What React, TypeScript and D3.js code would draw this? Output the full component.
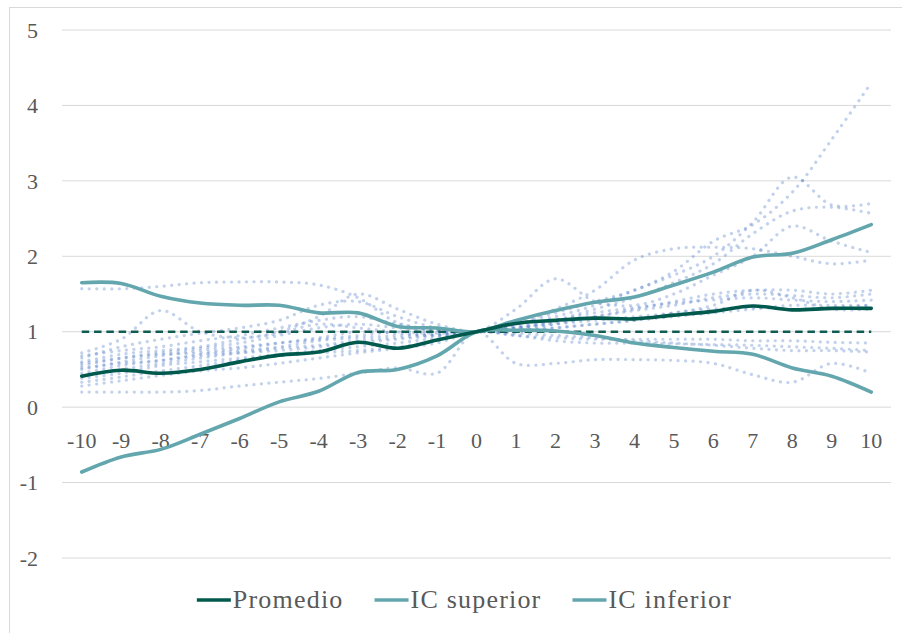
import React, { useEffect, useRef } from 'react';
import * as d3 from 'd3';

// categorías del eje X
const categorias = [-10, -9, -8, -7, -6, -5, -4, -3, -2, -1, 0, 1, 2, 3, 4, 5, 6, 7, 8, 9, 10];
const ticksY = [-2, -1, 0, 1, 2, 3, 4, 5];

const promedio = [0.41, 0.49, 0.45, 0.5, 0.6, 0.69, 0.73, 0.86, 0.78, 0.89, 1, 1.11, 1.15, 1.18, 1.17, 1.22, 1.27, 1.34, 1.29, 1.31, 1.31];
const icSuperior = [1.65, 1.64, 1.47, 1.38, 1.35, 1.35, 1.25, 1.25, 1.07, 1.05, 1, 1.15, 1.28, 1.39, 1.46, 1.62, 1.79, 1.99, 2.04, 2.22, 2.42];
const icInferior = [-0.86, -0.66, -0.56, -0.36, -0.15, 0.07, 0.21, 0.46, 0.5, 0.68, 1, 1.02, 1.01, 0.95, 0.85, 0.79, 0.74, 0.7, 0.52, 0.41, 0.2];
const referencia = [1, 1, 1, 1, 1, 1, 1, 1, 1, 1, 1, 1, 1, 1, 1, 1, 1, 1, 1, 1, 1];

// series individuales (punteadas)
const serie01 = [1.57, 1.57, 1.6, 1.65, 1.66, 1.66, 1.62, 1.45, 1.12, 1.02, 1, 1.05, 1.15, 1.25, 1.32, 1.38, 1.42, 1.45, 1.42, 1.4, 1.42];
const serie02 = [0.72, 0.9, 1.28, 1.0, 0.92, 0.98, 1.1, 1.05, 1.0, 0.98, 1, 1.1, 1.3, 1.55, 1.95, 2.1, 2.12, 2.1, 2.0, 1.9, 1.95];
const serie03 = [0.65, 0.8, 0.9, 0.98, 1.05, 1.15, 1.35, 1.4, 1.2, 1.05, 1, 1.3, 1.7, 1.4, 1.35, 1.5, 1.75, 2.0, 2.4, 2.2, 2.05];
const serie04 = [0.6, 0.7, 0.75, 0.8, 0.9, 1.0, 1.2, 1.5, 1.3, 1.1, 1, 1.1, 1.25, 1.4, 1.55, 1.8, 2.2, 2.42, 2.85, 3.55, 4.3];
const serie05 = [0.55, 0.65, 0.72, 0.78, 0.85, 0.95, 1.05, 1.1, 1.05, 1.02, 1, 1.08, 1.2, 1.35, 1.55, 1.75, 2.0, 2.45, 3.05, 2.68, 2.7];
const serie06 = [0.5, 0.6, 0.68, 0.75, 0.8, 0.85, 0.9, 0.95, 1.0, 1.0, 1, 1.05, 1.15, 1.3, 1.45, 1.65, 1.9, 2.3, 2.6, 2.65, 2.57];
const serie07 = [0.45, 0.55, 0.62, 0.7, 0.75, 0.8, 0.88, 0.92, 0.95, 0.98, 1, 1.02, 1.1, 1.2, 1.3, 1.4, 1.5, 1.55, 1.55, 1.5, 1.55];
const serie08 = [0.42, 0.5, 0.58, 0.65, 0.72, 0.78, 0.82, 0.88, 0.92, 0.96, 1, 1.0, 1.05, 1.1, 1.15, 1.2, 1.25, 1.3, 1.35, 1.35, 1.35];
const serie09 = [0.38, 0.45, 0.55, 0.6, 0.65, 0.7, 0.75, 0.8, 0.85, 0.92, 1, 1.05, 1.1, 1.15, 1.2, 1.25, 1.35, 1.55, 1.45, 1.3, 1.3];
const serie10 = [0.33, 0.4, 0.48, 0.55, 0.62, 0.68, 0.72, 0.75, 0.8, 0.88, 1, 0.95, 0.92, 0.9, 0.9, 0.9, 0.9, 0.88, 0.88, 0.86, 0.85];
const serie11 = [0.28, 0.35, 0.42, 0.48, 0.52, 0.58, 0.65, 0.72, 0.78, 0.85, 1, 0.95, 0.88, 0.85, 0.85, 0.84, 0.83, 0.82, 0.8, 0.78, 0.75];
const serie12 = [0.2, 0.2, 0.2, 0.22, 0.28, 0.33, 0.38, 0.45, 0.52, 0.45, 1, 0.58, 0.58, 0.63, 0.63, 0.62, 0.58, 0.43, 0.33, 0.58, 0.45];
const serie13 = [0.58, 0.65, 0.7, 0.72, 0.78, 0.85, 0.92, 1.0, 0.98, 0.95, 1, 0.98, 0.95, 0.92, 0.88, 0.85, 0.82, 0.78, 0.75, 0.75, 0.73];
const serie14 = [0.68, 0.75, 0.8, 0.88, 0.95, 1.05, 1.15, 1.2, 1.1, 1.02, 1, 1.05, 1.12, 1.2, 1.28, 1.35, 1.45, 1.5, 1.48, 1.45, 1.5];
const serie15 = [0.52, 0.58, 0.62, 0.68, 0.72, 0.75, 0.8, 0.85, 0.9, 0.95, 1, 1.02, 1.05, 1.1, 1.15, 1.25, 1.3, 1.32, 1.3, 1.32, 1.35];

const individuales = [serie01, serie02, serie03, serie04, serie05, serie06, serie07, serie08, serie09, serie10, serie11, serie12, serie13, serie14, serie15];

const leyenda = [
  { nombre: 'Promedio', color: '#00594D' },
  { nombre: 'IC superior', color: '#63A6AD' },
  { nombre: 'IC inferior', color: '#63A6AD' },
];

const FUENTE = '"Liberation Serif", "DejaVu Serif", serif';

const App: React.FC = () => {
  const svgRef = useRef<SVGSVGElement>(null);

  useEffect(() => {
    if (!svgRef.current) return;
    const svg = d3.select(svgRef.current);
    svg.selectAll('*').remove();

    const width = 902;
    const height = 633;
    const margin = { top: 30, right: 11, bottom: 75, left: 62 };

    // borde del gráfico
    svg.append('rect')
      .attr('x', 9.5).attr('y', 7.5)
      .attr('width', width).attr('height', height)
      .attr('fill', '#ffffff')
      .attr('stroke', '#D9D9D9');

    const x = d3.scalePoint<number>()
      .domain(categorias)
      .range([margin.left, width - margin.right])
      .padding(0.5);

    const y = d3.scaleLinear()
      .domain([-2, 5])
      .range([height - margin.bottom, margin.top]);

    // cuadrícula
    svg.append('g')
      .selectAll('line')
      .data(ticksY)
      .enter()
      .append('line')
      .attr('x1', margin.left).attr('x2', width - margin.right)
      .attr('y1', d => y(d)).attr('y2', d => y(d))
      .attr('stroke', '#D9D9D9')
      .attr('stroke-width', 1);

    // etiquetas eje Y
    svg.append('g')
      .selectAll('text')
      .data(ticksY)
      .enter()
      .append('text')
      .attr('x', 38)
      .attr('y', d => y(d))
      .attr('dy', '0.35em')
      .attr('text-anchor', 'end')
      .attr('font-family', FUENTE)
      .attr('font-size', 22)
      .attr('fill', '#595959')
      .text(d => `${d}`);

    // etiquetas eje X (cruzan en 0)
    svg.append('g')
      .selectAll('text')
      .data(categorias)
      .enter()
      .append('text')
      .attr('x', d => x(d)!)
      .attr('y', y(0) + 41)
      .attr('text-anchor', 'middle')
      .attr('font-family', FUENTE)
      .attr('font-size', 22)
      .attr('fill', '#595959')
      .text(d => `${d}`);

    const linea = d3.line<number>()
      .x((_, i) => x(categorias[i])!)
      .y(d => y(d))
      .curve(d3.curveCatmullRom.alpha(0.5));

    // series punteadas
    svg.append('g')
      .selectAll('path')
      .data(individuales)
      .enter()
      .append('path')
      .attr('d', d => linea(d))
      .attr('fill', 'none')
      .attr('stroke', '#4472C4')
      .attr('stroke-opacity', 0.32)
      .attr('stroke-width', 3.2)
      .attr('stroke-linecap', 'round')
      .attr('stroke-dasharray', '0.1 7.4');

    // línea de referencia en 1
    svg.append('path')
      .attr('d', d3.line<number>().x((_, i) => x(categorias[i])!).y(d => y(d))(referencia))
      .attr('fill', 'none')
      .attr('stroke', '#0E5C52')
      .attr('stroke-width', 2.4)
      .attr('stroke-dasharray', '7.5 4.8');

    const principales = [
      { datos: icInferior, color: leyenda[2].color },
      { datos: icSuperior, color: leyenda[1].color },
      { datos: promedio, color: leyenda[0].color },
    ];

    svg.append('g')
      .selectAll('path')
      .data(principales)
      .enter()
      .append('path')
      .attr('d', d => linea(d.datos))
      .attr('fill', 'none')
      .attr('stroke', d => d.color)
      .attr('stroke-width', 3.6)
      .attr('stroke-linecap', 'round');

    // leyenda
    const gLeyenda = svg.append('g');
    const items = gLeyenda.selectAll('g')
      .data(leyenda)
      .enter()
      .append('g');

    items.append('line')
      .attr('x1', 0).attr('x2', 34)
      .attr('y1', 0).attr('y2', 0)
      .attr('stroke', d => d.color)
      .attr('stroke-width', 3.6);

    items.append('text')
      .attr('x', 36)
      .attr('y', 8)
      .attr('font-family', FUENTE)
      .attr('font-size', 26)
      .attr('letter-spacing', 1.2)
      .attr('fill', '#595959')
      .text(d => d.nombre);

    // distribuir items según el ancho real del texto
    const anchos: number[] = [];
    items.each(function () {
      const t = d3.select(this).select('text').node() as SVGTextElement;
      anchos.push(36 + t.getComputedTextLength());
    });
    const separacion = 31;
    const total = d3.sum(anchos) + separacion * (anchos.length - 1);
    let cursor = 464.5 - total / 2;
    items.attr('transform', (_, i) => {
      const pos = cursor;
      cursor += anchos[i] + separacion;
      return `translate(${pos}, 600)`;
    });
  }, []);

  return (
    <div style={{ position: 'absolute', left: 0, top: 0, width: 902, height: 633, background: '#fff' }}>
      <svg ref={svgRef} width={902} height={633} style={{ display: 'block' }} />
    </div>
  );
};

export default App;
